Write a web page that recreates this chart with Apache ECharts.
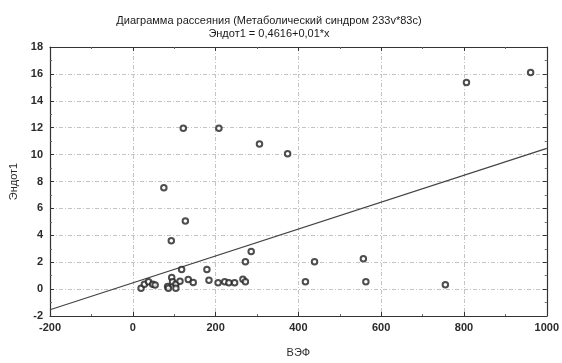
<!DOCTYPE html>
<html>
<head>
<meta charset="utf-8">
<script src="https://cdn.jsdelivr.net/npm/echarts@6/dist/echarts.min.js"></script>
<style>
  html, body { margin: 0; padding: 0; background: #fff; }
  #chart { width: 562px; height: 363px; }
</style>
</head>
<body>
<div id="chart"></div>
<script>
// ВЭФ values (x) and Эндот1 values (y)
const vefValues = [
  20, 28, 38, 48, 54, 84, 86, 94, 96, 104, 104, 114, 118, 134, 146,
  93, 127, 75, 122, 208, 306, 374,
  179, 184, 206, 222, 232, 246, 266, 272, 272, 286,
  417, 439, 557, 563, 755, 806, 961
];
const endotValues = [
  0.07, 0.36, 0.54, 0.36, 0.31, 0.19, 0.07, 0.86, 0.54, 0.36, 0.07, 0.59, 1.45, 0.71, 0.5,
  3.59, 5.07, 7.54, 11.95, 11.95, 10.79, 10.07,
  1.45, 0.66, 0.47, 0.54, 0.47, 0.47, 0.74, 0.54, 2.04, 2.8,
  0.54, 2.04, 2.26, 0.54, 0.33, 15.36, 16.11
];

// regression line: Эндот1 = 0,4616 + 0,01*x, drawn across the x range
const fitX = [-200, 1000];
const fitY = [-1.5384, 10.4616];

const xTicks = { min: -200, max: 1000, interval: 200 };
const yTicks = { min: -2, max: 18, interval: 2 };

const chart = echarts.init(document.getElementById("chart"));
const font = "Arial, 'Liberation Sans', sans-serif";
const textColor = "#2b2b2b";
const axisColor = "#333";
const gridColor = "#c4c4c4";

const points = vefValues.map((x, i) => [x, endotValues[i]]);
const fitLine = fitX.map((x, i) => [x, fitY[i]]);

const frameAxis = {
  axisLine: { show: true, onZero: false, lineStyle: { color: axisColor, width: 1.2 } },
  axisTick: { show: true, inside: true, length: 4, lineStyle: { color: axisColor } },
  minorTick: { show: true, splitNumber: 2, length: 2, lineStyle: { color: "#666" } },
  axisLabel: { show: false },
  splitLine: { show: false },
};

chart.setOption({
  backgroundColor: "#fff",
  animation: false,
  title: {
    text: "Диаграмма рассеяния (Метаболический синдром 233v*83c)",
    subtext: "Эндот1 = 0,4616+0,01*x",
    left: 264,
    top: 10,
    textAlign: "center",
    itemGap: 2,
    textStyle: { fontFamily: font, fontSize: 11, fontWeight: "normal", color: "#1a1a1a" },
    subtextStyle: { fontFamily: font, fontSize: 11, color: "#1a1a1a" },
  },
  grid: { left: 50, right: 12, top: 47, bottom: 36 },
  xAxis: [
    {
      type: "value",
      ...xTicks,
      name: "ВЭФ",
      nameLocation: "middle",
      nameGap: 31,
      nameTextStyle: { fontFamily: font, fontSize: 11, color: textColor },
      axisLine: { show: true, onZero: false, lineStyle: { color: axisColor, width: 1.2 } },
      axisTick: { show: true, inside: true, length: 4, lineStyle: { color: axisColor } },
      minorTick: { show: true, splitNumber: 2, length: 2, lineStyle: { color: "#666" } },
      axisLabel: { fontFamily: font, fontSize: 11, fontWeight: "bold", color: textColor, margin: 6, formatter: (v) => String(v) },
      splitLine: { show: true, lineStyle: { color: gridColor, type: [4, 2, 1, 2] } },
    },
    { type: "value", position: "top", ...xTicks, ...frameAxis },
  ],
  yAxis: [
    {
      type: "value",
      ...yTicks,
      name: "Эндот1",
      nameLocation: "middle",
      nameGap: 31,
      nameTextStyle: { fontFamily: font, fontSize: 11, color: textColor },
      axisLine: { show: true, onZero: false, lineStyle: { color: axisColor, width: 1.2 } },
      axisTick: { show: true, inside: true, length: 4, lineStyle: { color: axisColor } },
      minorTick: { show: true, splitNumber: 2, length: 2, lineStyle: { color: "#666" } },
      axisLabel: { fontFamily: font, fontSize: 11, fontWeight: "bold", color: textColor, margin: 7 },
      splitLine: { show: true, lineStyle: { color: gridColor, type: [4, 2, 1, 2] } },
    },
    { type: "value", position: "right", ...yTicks, ...frameAxis },
  ],
  series: [
    {
      type: "line",
      data: fitLine,
      symbol: "none",
      silent: true,
      lineStyle: { color: "#444", width: 1.2 },
      z: 2,
    },
    {
      type: "scatter",
      data: points,
      symbol: "emptyCircle",
      symbolSize: 5.5,
      itemStyle: { color: "#222", borderColor: "#222", borderWidth: 1 },
      z: 3,
    },
  ],
});
</script>
</body>
</html>
